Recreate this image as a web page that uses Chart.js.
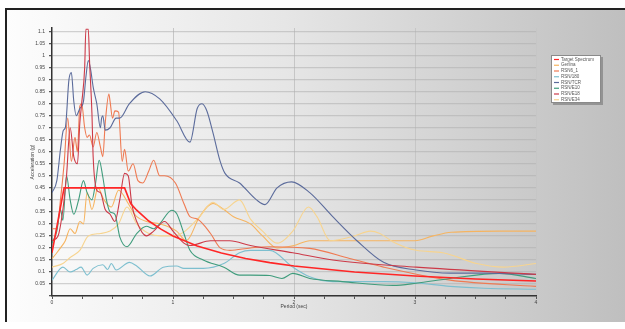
<!DOCTYPE html>
<html>
<head>
<meta charset="utf-8">
<script src="https://cdn.jsdelivr.net/npm/chart.js@4.4.1/dist/chart.umd.min.js"></script>
<style>
  html, body { margin: 0; padding: 0; background: #ffffff; }
  #wrap { width: 625px; height: 329px; position: relative; }
</style>
</head>
<body>
<div id="wrap"><canvas id="c" width="625" height="329"></canvas></div>
<script>
// Response spectra: period (sec) vs spectral acceleration (g)

const seriesNames = ['Target Spectrum', 'Gerlina', 'RSN6_1', 'RSN/180', 'RSN/TCR', 'RSN/E10', 'RSN/E18', 'RSN/E34'];

const targetT = [0, 0.1, 0.6, 0.65, 0.7, 0.8, 0.9, 1.0, 1.2, 1.4, 1.6, 1.8, 2.0, 2.5, 3.0, 3.5, 4.0];
const targetA = [0.18, 0.45, 0.45, 0.385, 0.357, 0.312, 0.278, 0.25, 0.208, 0.179, 0.156, 0.139, 0.125, 0.1, 0.083, 0.071, 0.0625];

const gerlinaT = [0, 0.04, 0.07, 0.11, 0.15, 0.19, 0.23, 0.26, 0.29, 0.33, 0.38, 0.43, 0.49, 0.55, 0.63, 0.67, 0.70, 0.78, 0.89, 1.03, 1.11, 1.22, 1.33, 1.42, 1.5, 1.64, 1.74, 1.86, 2.0, 2.13, 2.5, 3.0, 3.15, 3.3, 3.7, 4.0];
const gerlinaA = [0.155, 0.18, 0.2, 0.23, 0.28, 0.26, 0.31, 0.30, 0.43, 0.36, 0.45, 0.40, 0.37, 0.44, 0.385, 0.35, 0.33, 0.31, 0.30, 0.27, 0.23, 0.33, 0.385, 0.36, 0.33, 0.30, 0.25, 0.20, 0.21, 0.23, 0.23, 0.23, 0.25, 0.265, 0.27, 0.27];

const rsn61T = [0, 0.04, 0.07, 0.10, 0.13, 0.16, 0.19, 0.21, 0.23, 0.245, 0.27, 0.29, 0.31, 0.34, 0.37, 0.40, 0.42, 0.44, 0.47, 0.48, 0.50, 0.52, 0.55, 0.58, 0.60, 0.63, 0.67, 0.71, 0.75, 0.80, 0.84, 0.89, 0.93, 1.02, 1.09, 1.14, 1.20, 1.31, 1.39, 1.47, 1.64, 1.8, 2.13, 2.46, 2.74, 3.29, 4.0];
const rsn61A = [0.28, 0.28, 0.40, 0.55, 0.74, 0.56, 0.66, 0.60, 0.79, 0.80, 0.70, 0.66, 0.67, 0.62, 0.68, 0.62, 0.58, 0.72, 0.84, 0.81, 0.74, 0.77, 0.765, 0.56, 0.61, 0.52, 0.55, 0.48, 0.47, 0.52, 0.565, 0.50, 0.50, 0.47, 0.385, 0.33, 0.32, 0.26, 0.20, 0.19, 0.20, 0.205, 0.198, 0.156, 0.12, 0.066, 0.04];

const rsn180T = [0, 0.09, 0.15, 0.2, 0.24, 0.29, 0.34, 0.42, 0.46, 0.49, 0.53, 0.64, 0.70, 0.81, 0.92, 1.03, 1.09, 1.25, 1.42, 1.55, 1.64, 1.80, 1.99, 2.13, 2.32, 2.74, 3.0, 3.29, 3.57, 4.0];
const rsn180A = [0.066, 0.12, 0.10, 0.11, 0.12, 0.087, 0.115, 0.13, 0.11, 0.135, 0.108, 0.14, 0.125, 0.083, 0.12, 0.125, 0.115, 0.115, 0.135, 0.18, 0.19, 0.19, 0.12, 0.08, 0.06, 0.06, 0.055, 0.04, 0.032, 0.028];

const rsnTcrT = [0, 0.04, 0.07, 0.094, 0.11, 0.14, 0.16, 0.18, 0.2, 0.23, 0.26, 0.28, 0.30, 0.32, 0.34, 0.37, 0.40, 0.41, 0.42, 0.44, 0.48, 0.53, 0.56, 0.64, 0.77, 0.89, 1.03, 1.14, 1.20, 1.24, 1.28, 1.33, 1.39, 1.43, 1.55, 1.69, 1.76, 1.86, 1.98, 2.13, 2.32, 2.52, 2.74, 3.01, 3.29, 3.57, 4.0];
const rsnTcrA = [0.43, 0.48, 0.61, 0.69, 0.70, 0.90, 0.93, 0.81, 0.75, 0.78, 0.81, 0.91, 0.98, 0.94, 0.87, 0.80, 0.70, 0.74, 0.75, 0.69, 0.70, 0.74, 0.74, 0.80, 0.85, 0.82, 0.73, 0.64, 0.78, 0.80, 0.77, 0.68, 0.56, 0.51, 0.47, 0.40, 0.38, 0.45, 0.475, 0.43, 0.33, 0.23, 0.14, 0.108, 0.095, 0.095, 0.09];

const rsnE10T = [0, 0.04, 0.07, 0.09, 0.12, 0.15, 0.18, 0.22, 0.26, 0.29, 0.33, 0.36, 0.39, 0.42, 0.45, 0.48, 0.52, 0.56, 0.62, 0.70, 0.78, 0.84, 0.89, 0.99, 1.03, 1.09, 1.14, 1.25, 1.42, 1.55, 1.64, 1.80, 1.90, 1.99, 2.13, 2.4, 2.82, 3.01, 3.29, 3.70, 4.0];
const rsnE10A = [0.22, 0.27, 0.36, 0.315, 0.50, 0.40, 0.34, 0.40, 0.48, 0.43, 0.40, 0.47, 0.565, 0.495, 0.40, 0.35, 0.34, 0.246, 0.205, 0.26, 0.29, 0.28, 0.30, 0.357, 0.343, 0.26, 0.19, 0.15, 0.12, 0.087, 0.087, 0.085, 0.073, 0.094, 0.073, 0.06, 0.044, 0.053, 0.073, 0.094, 0.073];

const rsnE18T = [0, 0.05, 0.09, 0.12, 0.15, 0.18, 0.21, 0.23, 0.245, 0.27, 0.28, 0.30, 0.31, 0.33, 0.34, 0.37, 0.40, 0.44, 0.48, 0.52, 0.56, 0.60, 0.63, 0.66, 0.70, 0.78, 0.84, 0.93, 1.0, 1.09, 1.14, 1.31, 1.47, 1.64, 1.99, 2.32, 3.01, 4.0];
const rsnE18A = [0.23, 0.25, 0.36, 0.50, 0.70, 0.58, 0.55, 0.72, 0.80, 0.95, 1.11, 1.11, 0.98, 0.76, 0.58, 0.44, 0.43, 0.36, 0.34, 0.31, 0.40, 0.51, 0.50, 0.38, 0.31, 0.25, 0.27, 0.31, 0.27, 0.22, 0.21, 0.23, 0.23, 0.21, 0.18, 0.15, 0.12, 0.09];

const rsnE34T = [0, 0.09, 0.15, 0.23, 0.30, 0.40, 0.48, 0.55, 0.62, 0.70, 0.80, 0.90, 1.0, 1.1, 1.22, 1.33, 1.42, 1.55, 1.64, 1.74, 1.86, 1.99, 2.12, 2.19, 2.30, 2.5, 2.63, 2.71, 2.82, 3.01, 3.23, 3.51, 3.73, 4.0];
const rsnE34A = [0.12, 0.135, 0.16, 0.19, 0.25, 0.26, 0.27, 0.30, 0.37, 0.30, 0.26, 0.25, 0.25, 0.27, 0.33, 0.39, 0.36, 0.40, 0.32, 0.27, 0.22, 0.27, 0.37, 0.33, 0.23, 0.25, 0.27, 0.26, 0.225, 0.19, 0.18, 0.135, 0.12, 0.135];

const xTickValues = [0, 0.25, 0.5, 0.75, 1, 1.25, 1.5, 1.75, 2, 2.25, 2.5, 2.75, 3, 3.25, 3.5, 3.75, 4];
const yTickValues = [0, 0.05, 0.1, 0.15, 0.2, 0.25, 0.3, 0.35, 0.4, 0.45, 0.5, 0.55, 0.6, 0.65, 0.7, 0.75, 0.8, 0.85, 0.9, 0.95, 1, 1.05, 1.1];

const seriesColors = ['#ff2626', '#f6b460', '#ef7a52', '#7dbfcf', '#5b6b9b', '#3f9c7c', '#cc3a48', '#f7d48f'];

const toPoints = (t, a) => t.map((x, i) => ({ x: x, y: a[i] }));
const periodSets = [targetT, gerlinaT, rsn61T, rsn180T, rsnTcrT, rsnE10T, rsnE18T, rsnE34T];
const accelSets = [targetA, gerlinaA, rsn61A, rsn180A, rsnTcrA, rsnE10A, rsnE18A, rsnE34A];

// draw order: records first, target on top
const drawOrder = [1, 7, 3, 2, 5, 4, 6, 0];
const datasets = seriesNames.map((name, i) => ({
  label: name,
  data: toPoints(periodSets[i], accelSets[i]),
  borderColor: seriesColors[i],
  backgroundColor: seriesColors[i],
  borderWidth: i === 0 ? 1.6 : 1.1,
  pointRadius: 0,
  fill: false,
  cubicInterpolationMode: i === 0 ? 'default' : 'monotone',
  tension: 0,
  order: drawOrder.length - drawOrder.indexOf(i)
}));

const FONT = 'Liberation Sans';

const framePlugin = {
  id: 'frame',
  beforeDraw(chart) {
    const ctx = chart.ctx;
    ctx.save();
    ctx.fillStyle = '#ffffff';
    ctx.fillRect(0, 0, chart.width, chart.height);
    const g = ctx.createLinearGradient(6, 0, 625, 0);
    g.addColorStop(0, '#fdfdfd');
    g.addColorStop(0.45, '#e6e6e6');
    g.addColorStop(1, '#bfbfbf');
    ctx.fillStyle = g;
    ctx.fillRect(6, 9, 619, 313);
    ctx.fillStyle = '#222222';
    ctx.fillRect(5, 8, 620, 2);
    ctx.fillRect(5, 8, 2, 314);
    ctx.restore();
  }
};

const legendPlugin = {
  id: 'boxLegend',
  afterDraw(chart) {
    const ctx = chart.ctx;
    const bx = 551, by = 55, bw = 50, bh = 48;
    ctx.save();
    ctx.fillStyle = 'rgba(90,90,90,0.45)';
    ctx.fillRect(bx + 2, by + 2, bw, bh);
    ctx.fillStyle = '#ffffff';
    ctx.fillRect(bx, by, bw, bh);
    ctx.strokeStyle = '#8a8a8a';
    ctx.lineWidth = 1;
    ctx.strokeRect(bx + 0.5, by + 0.5, bw - 1, bh - 1);
    ctx.font = '4.5px "' + FONT + '"';
    ctx.textBaseline = 'middle';
    chart.data.datasets.forEach((ds, i) => {
      const y = by + 4.5 + i * 5.75;
      ctx.strokeStyle = ds.borderColor;
      ctx.lineWidth = 1.2;
      ctx.beginPath();
      ctx.moveTo(bx + 3, y);
      ctx.lineTo(bx + 8, y);
      ctx.stroke();
      ctx.fillStyle = '#555555';
      ctx.fillText(ds.label, bx + 10, y);
    });
    ctx.restore();
  }
};

new Chart(document.getElementById('c'), {
  type: 'line',
  data: { datasets: datasets },
  options: {
    responsive: false,
    animation: false,
    devicePixelRatio: 1,
    layout: { padding: { left: 27, right: 89, top: 28, bottom: 19 } },
    plugins: { legend: { display: false }, tooltip: { enabled: false } },
    scales: {
      x: {
        type: 'linear',
        min: 0,
        max: 4,
        afterFit(s) { s.height = 14; },
        afterBuildTicks(s) { s.ticks = xTickValues.map(v => ({ value: v })); },
        ticks: {
          autoSkip: false,
          maxRotation: 0,
          padding: 1,
          color: '#444444',
          font: { family: FONT, size: 5 },
          callback: v => (Number.isInteger(v) ? String(v) : '')
        },
        grid: {
          color: c => (c.tick && Number.isInteger(c.tick.value) && c.tick.value > 0 ? '#c6c6c6' : 'rgba(0,0,0,0)'),
          lineWidth: 1,
          tickColor: '#555555',
          tickLength: 3
        },
        border: { color: '#333333', width: 1.5 },
        title: {
          display: true,
          text: 'Period (sec)',
          color: '#444444',
          font: { family: FONT, size: 5 },
          padding: { top: 0, bottom: 0 }
        }
      },
      y: {
        type: 'linear',
        min: 0,
        max: 1.115,
        afterFit(s) { s.width = 25; },
        afterBuildTicks(s) { s.ticks = yTickValues.map(v => ({ value: v })); },
        ticks: {
          autoSkip: false,
          padding: 4,
          color: '#444444',
          font: { family: FONT, size: 5 },
          callback: v => (v === 0 ? '' : String(+v.toFixed(2)))
        },
        grid: {
          color: 'rgba(175,175,175,0.55)',
          lineWidth: 1.2,
          tickColor: '#555555',
          tickLength: 3
        },
        border: { color: '#333333', width: 1.5 },
        title: {
          display: true,
          text: 'Acceleration (g)',
          color: '#444444',
          font: { family: FONT, size: 5 },
          padding: { top: 3, bottom: 0 }
        }
      }
    }
  },
  plugins: [framePlugin, legendPlugin]
});
</script>
</body>
</html>
